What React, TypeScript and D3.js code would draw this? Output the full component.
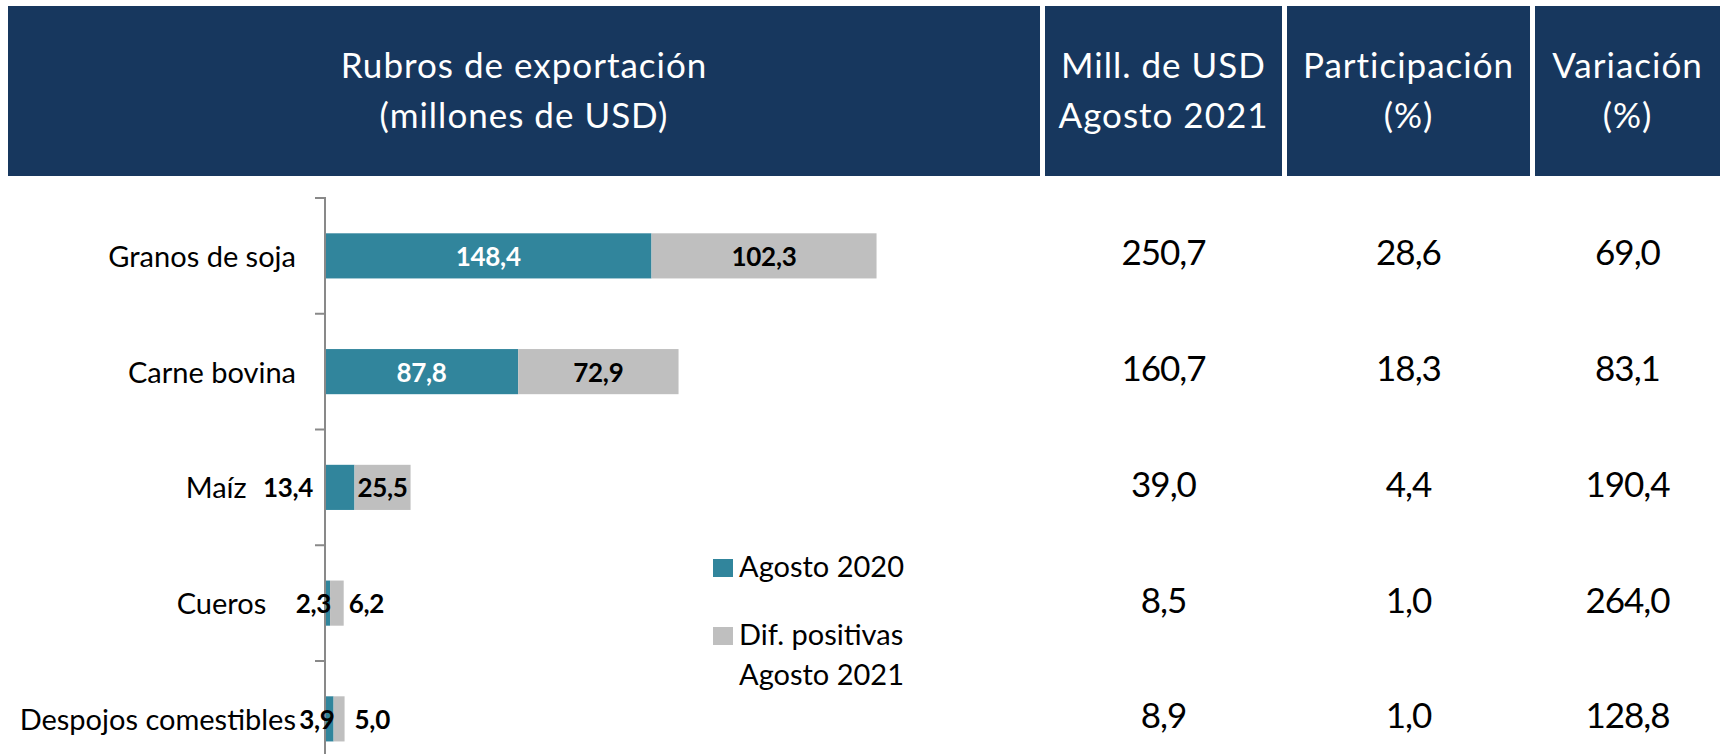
import React from "react";
import * as d3 from "d3";

const categories = [
  "Granos de soja",
  "Carne bovina",
  "Maíz",
  "Cueros\u00a0\u00a0\u00a0\u00a0",
  "Despojos comestibles",
];
const agosto2020 = [148.4, 87.8, 13.4, 2.3, 3.9];
const difPositivas = [102.3, 72.9, 25.5, 6.2, 5.0];
const millUSD = [250.7, 160.7, 39.0, 8.5, 8.9];
const participacion = [28.6, 18.3, 4.4, 1.0, 1.0];
const variacion = [69.0, 83.1, 190.4, 264.0, 128.8];
const tealLabelMode = ["center", "center", "left", "end", "end"];
const grayLabelMode = ["center", "center", "center", "after", "after"];
const headerCols = [
  { lines: ["Rubros de exportación", "(millones de USD)"], x0: 8, x1: 1040 },
  { lines: ["Mill. de USD", "Agosto 2021"], x0: 1045, x1: 1282 },
  { lines: ["Participación", "(%)"], x0: 1287, x1: 1530 },
  { lines: ["Variación", "(%)"], x0: 1535, x1: 1720 },
];
const legendItems = [
  { lines: ["Agosto 2020"], color: "#31859c" },
  { lines: ["Dif. positivas", "Agosto 2021"], color: "#bfbfbf" },
];

const W = 1723;
const H = 754;
const NAVY = "#17375e";
const TEAL = "#31859c";
const GRAY = "#bfbfbf";
const FONT = "Lato, 'Open Sans', sans-serif";

const fmt = (v: number) => d3.format(".1f")(v).replace(".", ",");

let _ctx: CanvasRenderingContext2D | null = null;
function measure(text: string, font: string): number {
  if (!_ctx) {
    const c = document.createElement("canvas");
    _ctx = c.getContext("2d");
  }
  if (!_ctx) return text.length * 14;
  _ctx.font = font;
  return _ctx.measureText(text).width;
}

export default function App() {
  const x = d3.scaleLinear().domain([0, 300]).range([325, 985]);
  const y = d3
    .scaleBand<string>()
    .domain(categories)
    .range([198, 198 + 5 * 115.75])
    .paddingInner(0.61)
    .paddingOuter(0.305);
  const step = y.step();
  const bw = y.bandwidth();
  const tickYs = categories.map((c) => (y(c) as number) - (step - bw) / 2);
  const center = (c: string) => (y(c) as number) + bw / 2;

  const colCenters = [1163.5, 1408.5, 1627.5];
  const tableCols = [millUSD, participacion, variacion];
  const valueFont = `700 26px ${FONT}`;

  return (
    <svg
      width={W}
      height={H}
      style={{ position: "absolute", left: 0, top: 0, background: "#fff" }}
      fontFamily={FONT}
    >
      {/* header */}
      {headerCols.map((h, i) => (
        <g key={i}>
          <rect x={h.x0} y={6} width={h.x1 - h.x0} height={170} fill={NAVY} />
          {h.lines.map((t, j) => (
            <text
              key={j}
              x={(h.x0 + h.x1) / 2}
              y={78 + j * 50}
              textAnchor="middle"
              fill="#fff"
              fontSize={35}
              letterSpacing={1}
            >
              {t}
            </text>
          ))}
        </g>
      ))}

      {/* axis */}
      <line x1={325} x2={325} y1={197} y2={H + 10} stroke="#898989" strokeWidth={2} />
      {tickYs.map((ty, i) => (
        <line key={i} x1={315} x2={326} y1={ty} y2={ty} stroke="#898989" strokeWidth={2} />
      ))}

      {/* category labels */}
      {categories.map((c, i) => {
        let lx = 296;
        if (tealLabelMode[i] === "left") {
          const w = measure(fmt(agosto2020[i]), valueFont);
          lx = x(0) - 12 - w - 15;
        }
        return (
          <text
            key={c}
            x={lx}
            y={center(c) + 11}
            textAnchor="end"
            fontSize={29}
            fill="#000"
            style={{ whiteSpace: "pre" }}
          >
            {c}
          </text>
        );
      })}

      {/* bars */}
      {categories.map((c, i) => {
        const a = agosto2020[i];
        const b = difPositivas[i];
        const yy = y(c) as number;
        const cy = center(c) + 10;
        const tealMode = tealLabelMode[i];
        const grayMode = grayLabelMode[i];
        let tx = (x(0) + x(a)) / 2;
        let tAnchor = "middle";
        let tFill = "#fff";
        if (tealMode === "left") {
          tx = x(0) - 12;
          tAnchor = "end";
          tFill = "#000";
        } else if (tealMode === "end") {
          tx = x(a) + 1;
          tAnchor = "end";
          tFill = "#000";
        }
        let gx = (x(a) + x(a + b)) / 2;
        let gAnchor = "middle";
        if (grayMode === "after") {
          gx = x(a + b) + (i === 3 ? 5 : 10);
          gAnchor = "start";
        }
        return (
          <g key={c}>
            <rect x={x(0) + 1} y={yy} width={x(a) - x(0) - 1} height={bw} fill={TEAL} />
            <rect x={x(a)} y={yy} width={x(a + b) - x(a)} height={bw} fill={GRAY} />
            <text
              x={tx}
              y={cy}
              textAnchor={tAnchor as any}
              fill={tFill}
              fontSize={26}
              fontWeight={700}
              letterSpacing={-0.3}
            >
              {fmt(a)}
            </text>
            <text
              x={gx}
              y={cy}
              textAnchor={gAnchor as any}
              fill="#000"
              fontSize={26}
              fontWeight={700}
              letterSpacing={-0.3}
            >
              {fmt(b)}
            </text>
          </g>
        );
      })}

      {/* table values */}
      {tableCols.map((col, ci) =>
        col.map((v, ri) => (
          <text
            key={ci + "-" + ri}
            x={colCenters[ci]}
            y={center(categories[ri]) + 9.5}
            textAnchor="middle"
            fontSize={35}
            letterSpacing={-1}
            fill="#000"
          >
            {fmt(v)}
          </text>
        ))
      )}

      {/* legend */}
      {legendItems.map((it, i) => {
        const top = 559 + i * 68;
        return (
          <g key={i}>
            <rect x={713} y={top} width={20} height={18} fill={it.color} />
            {it.lines.map((t, j) => (
              <text key={j} x={739} y={top + 18 + j * 40} fontSize={29} fill="#000">
                {t}
              </text>
            ))}
          </g>
        );
      })}
    </svg>
  );
}
